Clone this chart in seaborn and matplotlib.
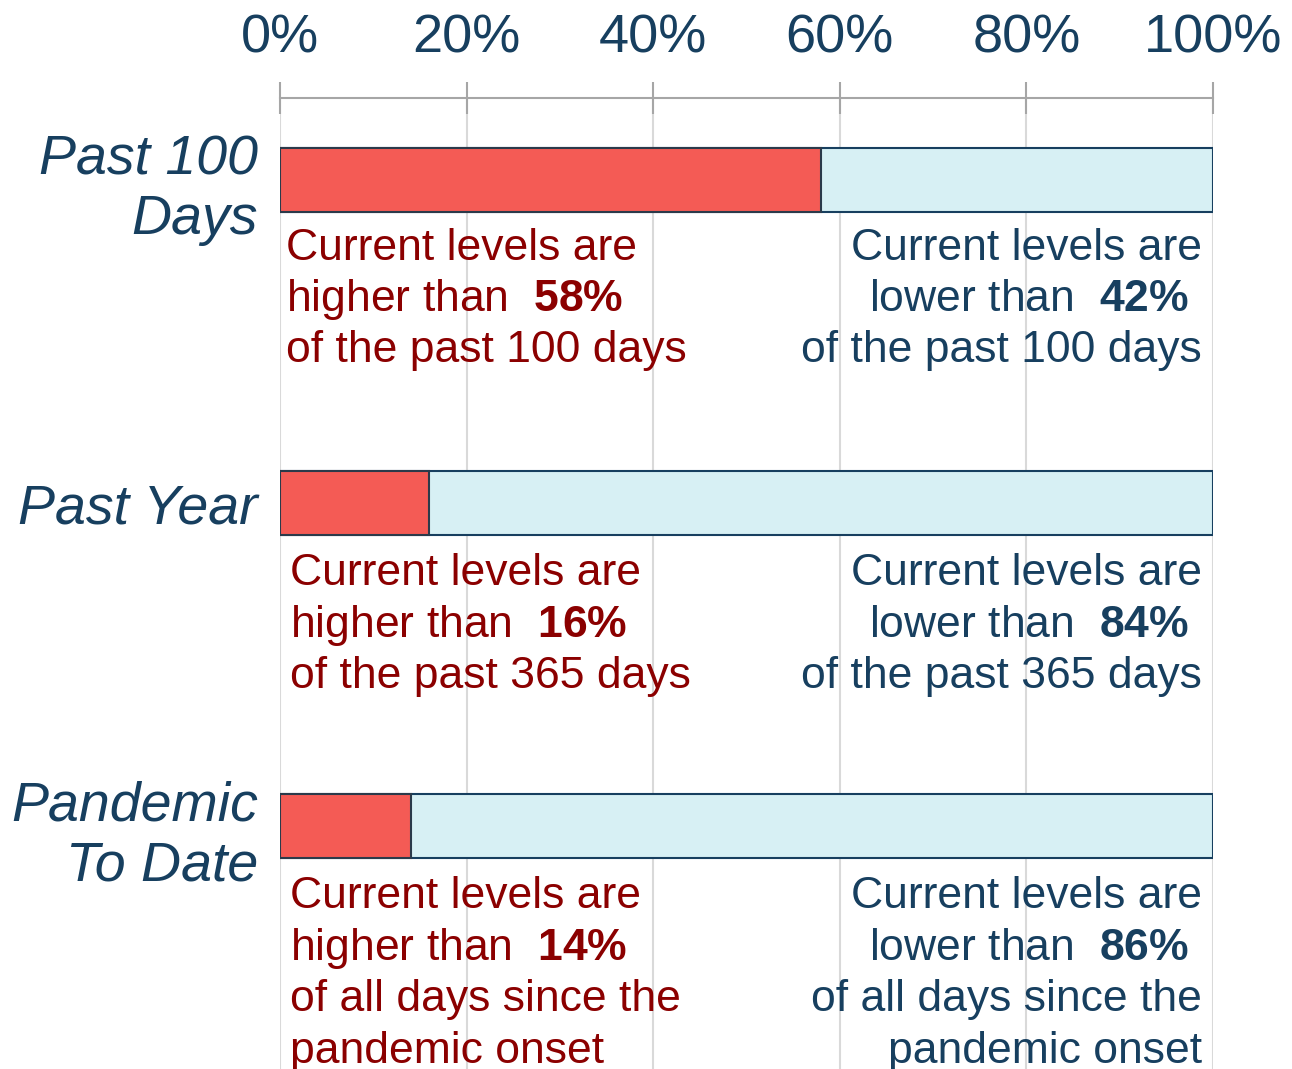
import numpy as np
import pandas as pd
import matplotlib
matplotlib.use("Agg")
import matplotlib.pyplot as plt
import seaborn as sns

# Chart data
categories = ["Past 100\nDays", "Past Year", "Pandemic\nTo Date"]
higher_pct = [58, 16, 14]
lower_pct = [42, 84, 86]
period_text = [["of the past 100 days"],
               ["of the past 365 days"],
               ["of all days since the", "pandemic onset"]]
x_ticks = [0, 20, 40, 60, 80, 100]

red = "#f45b55"
light_blue = "#d7f0f4"
navy = "#173f5f"
dark_red = "#8b0000"
grid_grey = "#d9d9d9"
tick_grey = "#a6a6a6"

sns.set_style("white")
plt.rcParams['font.family'] = ['Liberation Sans', 'DejaVu Sans']
plt.rcParams['mathtext.fontset'] = 'custom'
plt.rcParams['mathtext.rm'] = 'Liberation Sans'
plt.rcParams['mathtext.bf'] = 'Liberation Sans:bold'

df = pd.DataFrame({
    'category': categories,
    'higher': higher_pct,
    'total': [h + l for h, l in zip(higher_pct, lower_pct)],
})

fig = plt.figure(figsize=(12.92, 10.69), dpi=100)
ax = fig.add_axes([280 / 1292, 0, 933 / 1292, 1 - 98 / 1069])

bar_w = 0.2
sns.barplot(data=df, x='total', y='category', color=light_blue, saturation=1,
            edgecolor=navy, linewidth=1.5, width=bar_w, ax=ax, zorder=2)
sns.barplot(data=df, x='higher', y='category', color=red, saturation=1,
            edgecolor="#2b3a4a", linewidth=1.5, width=bar_w, ax=ax, zorder=3)

ax.set_xlim(0, 100)
ax.set_ylim(2.752, -0.254)
ax.set_xlabel("")
ax.set_ylabel("")

# top axis
ax.xaxis.tick_top()
ax.set_xticks(x_ticks)
ax.set_xticklabels([f"{t}%" for t in x_ticks])
ax.tick_params(axis='x', direction='inout', length=23, width=1.5, color=tick_grey,
               labelsize=39, labelcolor=navy, pad=13)
ax.tick_params(axis='y', length=0, labelsize=40, labelcolor=navy, pad=16)
for lab in ax.get_yticklabels():
    lab.set_fontstyle('italic')
    lab.set_multialignment('right')
    lab.set_linespacing(1.2)

ax.grid(axis='x', color=grid_grey, linewidth=1.5)
ax.grid(axis='y', visible=False)
ax.set_axisbelow(True)
for side in ['left', 'right', 'bottom']:
    ax.spines[side].set_visible(False)
ax.spines['top'].set_color(tick_grey)
ax.spines['top'].set_linewidth(1.5)

# annotations below each bar
first_off = [34, 36, 36]
line_gap = 37
left_pad = [4, 7, 7]
for i in range(len(categories)):
    left_lines = ["Current levels are",
                  f"higher than  $\\mathbf{{{higher_pct[i]}\\%}}$"] + period_text[i]
    right_lines = ["Current levels are",
                   f"lower than  $\\mathbf{{{lower_pct[i]}\\%}}$"] + period_text[i]
    y0 = i + bar_w / 2
    for k, line in enumerate(left_lines):
        ax.annotate(line, xy=(0, y0), xytext=(left_pad[i], -(first_off[i] + k * line_gap)),
                    textcoords='offset points', ha='left', va='baseline',
                    fontsize=32, color=dark_red, zorder=5)
    for k, line in enumerate(right_lines):
        # the "lower than" line sits a little in from the right edge
        dx = -17 if k == 1 else -8
        ax.annotate(line, xy=(100, y0), xytext=(dx, -(first_off[i] + k * line_gap)),
                    textcoords='offset points', ha='right', va='baseline',
                    fontsize=32, color=navy, zorder=5)

fig.savefig("out.png", dpi=100)
